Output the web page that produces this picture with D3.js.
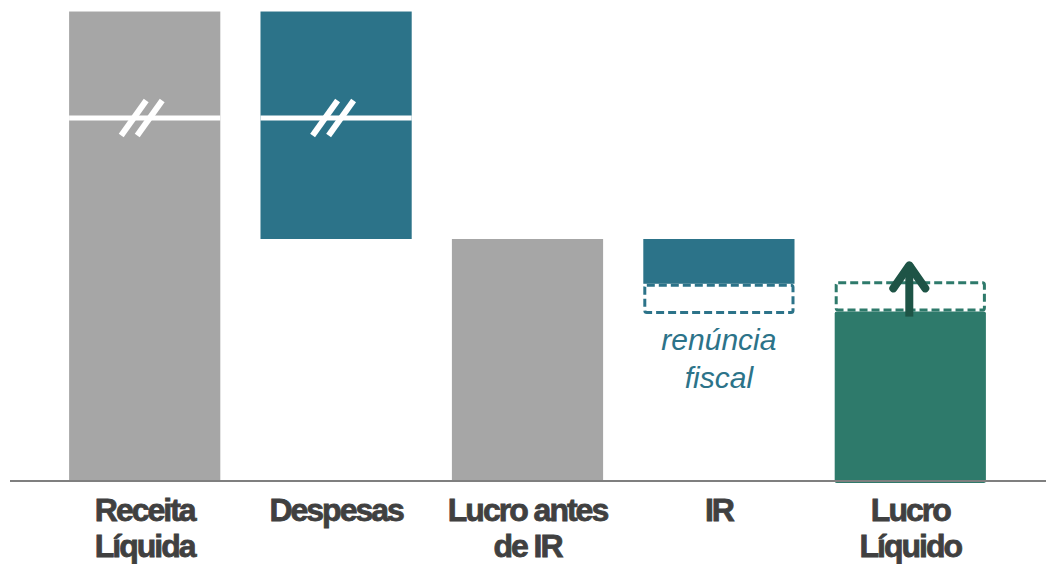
<!DOCTYPE html>
<html>
<head>
<meta charset="utf-8">
<script src="https://cdn.jsdelivr.net/npm/d3@7"></script>
<style>
  body { margin: 0; background: #fff; }
  svg { display: block; }
</style>
</head>
<body>
<svg id="drawing_region"></svg>
<script>
// categories and values (Lucro antes de IR = 100)
const categories = ['Receita Líquida', 'Despesas', 'Lucro antes de IR', 'IR', 'Lucro Líquido'];
const labelLines = [['Receita', 'Líquida'], ['Despesas'], ['Lucro antes', 'de IR'], ['IR'], ['Lucro', 'Líquido']];
const barBase = [0, 100, 0, 81.5, 0];
const barTop = [194, 194, 100, 100, 70];
const renunciaFiscal = 12.5;     // dashed part of IR / gain on Lucro Líquido
const breakValue = 150;          // axis break on the first two bars
const renunciaLabel = ['renúncia', 'fiscal'];

const colors = ['#a6a6a6', '#2c7389', '#a6a6a6', '#2c7389', '#2e7a6b'];

const config = {
    width: 1046,
    height: 564,
    baseline: 481
};

const svg = d3.select('#drawing_region')
    .attr('width', config.width)
    .attr('height', config.height);

const x = d3.scaleBand()
    .domain(categories)
    .range([49, 1006])
    .paddingInner(0.21)
    .paddingOuter(0.105);

const y = d3.scaleLinear()
    .domain([0, 100])
    .range([config.baseline, 239]);

const bars = categories.map((c, i) => ({ cat: c, base: barBase[i], top: barTop[i], color: colors[i] }));

// bars
svg.selectAll('rect.bar')
    .data(bars)
    .enter()
    .append('rect')
    .attr('class', 'bar')
    .attr('x', d => x(d.cat))
    .attr('y', d => y(d.top))
    .attr('width', x.bandwidth())
    .attr('height', d => y(d.base) - y(d.top) + (d.cat === 'Lucro Líquido' ? 2 : 0))
    .attr('rx', d => d.cat === 'Lucro Líquido' ? 2 : 0)
    .attr('fill', d => d.color);

// axis break on Receita and Despesas
const broken = bars.slice(0, 2);
svg.selectAll('line.break')
    .data(broken)
    .enter()
    .append('line')
    .attr('x1', d => x(d.cat))
    .attr('x2', d => x(d.cat) + x.bandwidth())
    .attr('y1', y(breakValue))
    .attr('y2', y(breakValue))
    .attr('stroke', '#fff')
    .attr('stroke-width', 5);

broken.forEach(d => {
    const cx = x(d.cat) + x.bandwidth() / 2 - 3;
    const cy = y(breakValue);
    [-8, 8].forEach(off => {
        svg.append('line')
            .attr('x1', cx + off - 12.5)
            .attr('y1', cy + 17.5)
            .attr('x2', cx + off + 12.5)
            .attr('y2', cy - 17.5)
            .attr('stroke', '#fff')
            .attr('stroke-width', 6);
    });
});

// dashed boxes: renúncia fiscal
const dashed = [
    { cat: 'IR', top: barBase[3], base: barBase[3] - renunciaFiscal, color: '#2c7389' },
    { cat: 'Lucro Líquido', top: barTop[4] + renunciaFiscal, base: barTop[4], color: '#2e7a6b' }
];
svg.selectAll('rect.dash')
    .data(dashed)
    .enter()
    .append('rect')
    .attr('x', d => x(d.cat) + 1.5)
    .attr('y', d => y(d.top) + 1.5)
    .attr('width', x.bandwidth() - 3)
    .attr('height', d => y(d.base) - y(d.top) - 3)
    .attr('rx', 2)
    .attr('fill', 'none')
    .attr('stroke', d => d.color)
    .attr('stroke-width', 3)
    .attr('stroke-dasharray', '8,4');

// arrow on Lucro Líquido
const ax = x('Lucro Líquido') + x.bandwidth() / 2 - 1;
const aBottom = y(barTop[4]) + 5;
const aTip = y(barTop[4] + renunciaFiscal) - 21;
svg.append('line')
    .attr('x1', ax).attr('x2', ax)
    .attr('y1', aBottom).attr('y2', aTip + 4)
    .attr('stroke', '#1e5446')
    .attr('stroke-width', 8);
svg.append('polyline')
    .attr('points', `${ax - 16},${aTip + 28} ${ax},${aTip + 5} ${ax + 16},${aTip + 28}`)
    .attr('fill', 'none')
    .attr('stroke', '#1e5446')
    .attr('stroke-width', 8)
    .attr('stroke-linecap', 'round')
    .attr('stroke-linejoin', 'round');

// baseline
svg.append('line')
    .attr('x1', 10).attr('x2', config.width)
    .attr('y1', config.baseline).attr('y2', config.baseline)
    .attr('stroke', '#7f7f7f')
    .attr('stroke-width', 2);

// renúncia fiscal label
svg.append('text')
    .attr('x', x('IR') + x.bandwidth() / 2)
    .attr('y', 350)
    .attr('text-anchor', 'middle')
    .attr('font-family', 'Liberation Sans, Arial, sans-serif')
    .attr('font-style', 'italic')
    .attr('font-size', 30)
    .attr('fill', '#2c7389')
    .selectAll('tspan')
    .data(renunciaLabel)
    .enter()
    .append('tspan')
    .attr('x', x('IR') + x.bandwidth() / 2)
    .attr('dy', (d, i) => i === 0 ? 0 : 38)
    .text(d => d);

// category labels
svg.selectAll('text.cat')
    .data(categories)
    .enter()
    .append('text')
    .attr('class', 'cat')
    .attr('x', d => x(d) + x.bandwidth() / 2)
    .attr('y', 521)
    .attr('text-anchor', 'middle')
    .attr('font-family', 'Liberation Sans, Arial, sans-serif')
    .attr('font-weight', 'bold')
    .attr('font-size', 32)
    .attr('letter-spacing', -2)
    .attr('fill', '#404040')
    .attr('stroke', '#404040')
    .attr('stroke-width', 0.8)
    .each(function (d, i) {
        d3.select(this).selectAll('tspan')
            .data(labelLines[i])
            .enter()
            .append('tspan')
            .attr('x', x(d) + x.bandwidth() / 2)
            .attr('dy', (t, j) => j === 0 ? 0 : 36)
            .text(t => t);
    });
</script>
</body>
</html>
